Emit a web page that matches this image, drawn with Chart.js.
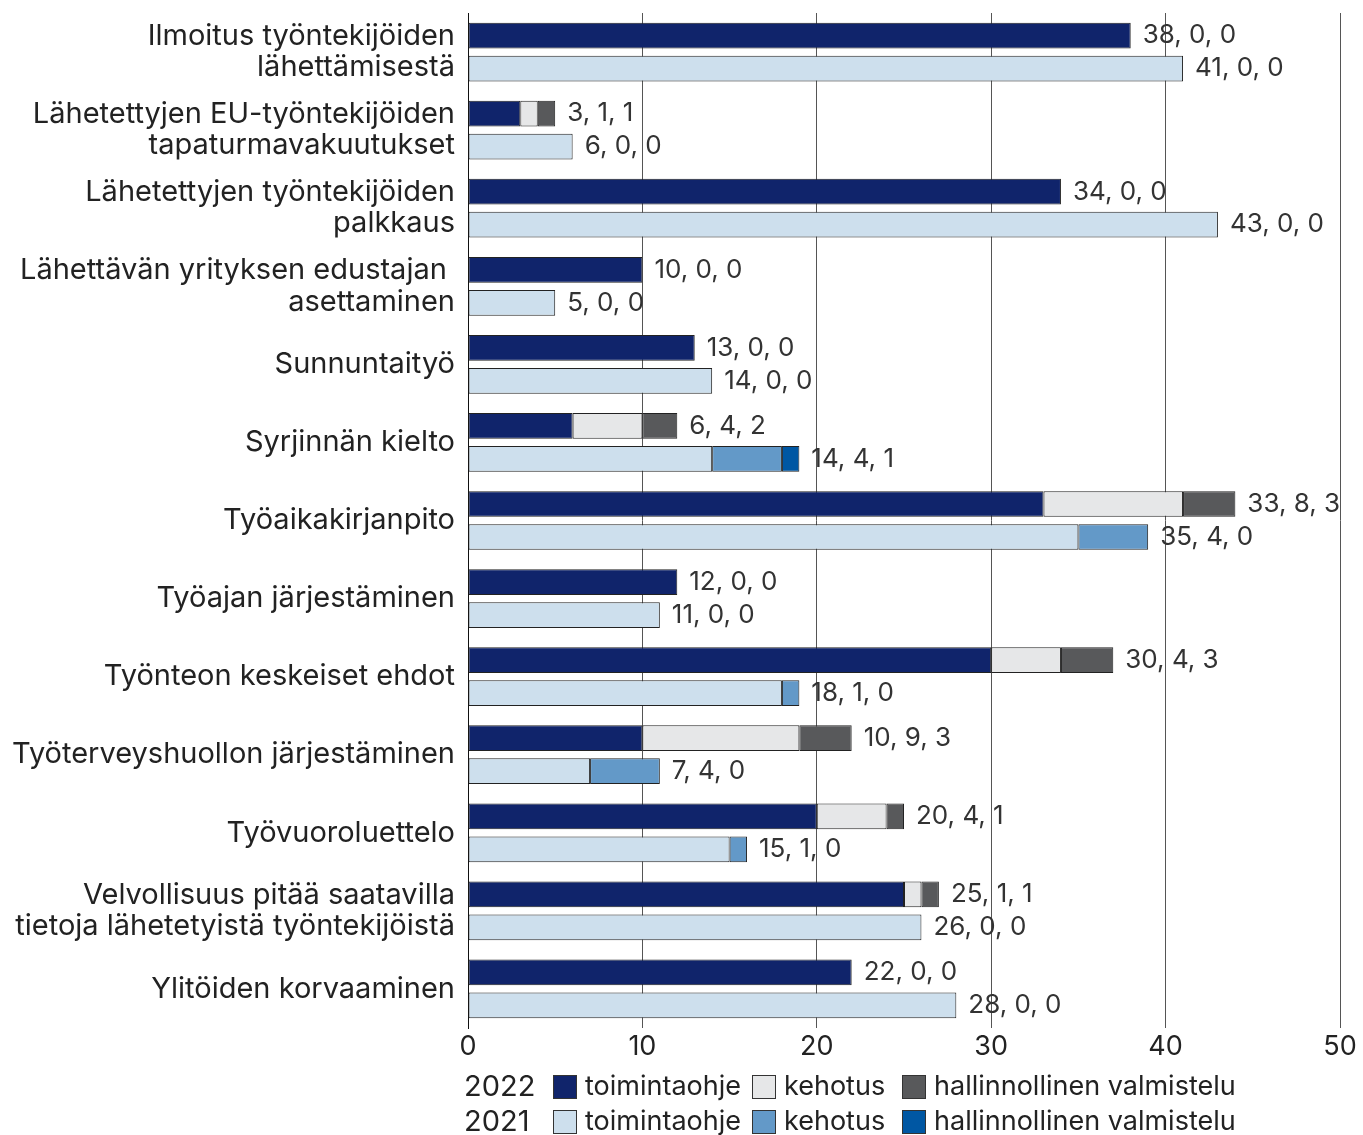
<!DOCTYPE html>
<html>
<head>
<meta charset="utf-8">
<script src="https://cdn.jsdelivr.net/npm/chart.js@4"></script>
<style>
  html, body { margin: 0; padding: 0; background: #fff; }
  #wrap { width: 1363px; height: 1135px; }
</style>
</head>
<body>
<div id="wrap"><canvas id="barChart"></canvas></div>
<script>
var categories = [
    ['Ilmoitus työntekijöiden', 'lähettämisestä'],
    ['Lähetettyjen EU-työntekijöiden', 'tapaturmavakuutukset'],
    ['Lähetettyjen työntekijöiden', 'palkkaus'],
    ['Lähettävän yrityksen edustajan ', 'asettaminen'],
    'Sunnuntaityö',
    'Syrjinnän kielto',
    'Työaikakirjanpito',
    'Työajan järjestäminen',
    'Työnteon keskeiset ehdot',
    'Työterveyshuollon järjestäminen',
    'Työvuoroluettelo',
    ['Velvollisuus pitää saatavilla', 'tietoja lähetetyistä työntekijöistä'],
    'Ylitöiden korvaaminen'
];
var ohje2022 = [38, 3, 34, 10, 13, 6, 33, 12, 30, 10, 20, 25, 22];
var kehotus2022 = [0, 1, 0, 0, 0, 4, 8, 0, 4, 9, 4, 1, 0];
var hallinto2022 = [0, 1, 0, 0, 0, 2, 3, 0, 3, 3, 1, 1, 0];
var ohje2021 = [41, 6, 43, 5, 14, 14, 35, 11, 18, 7, 15, 26, 28];
var kehotus2021 = [0, 0, 0, 0, 0, 4, 4, 0, 1, 4, 1, 0, 0];
var hallinto2021 = [0, 0, 0, 0, 0, 1, 0, 0, 0, 0, 0, 0, 0];
var xTicks = [0, 10, 20, 30, 40, 50];

var FONT = 'Inter';
var colors = {
    ohje2022: '#10246b', kehotus2022: '#e6e7e8', hallinto2022: '#58595b',
    ohje2021: '#cddfed', kehotus2021: '#6399c8', hallinto2021: '#0057a3'
};

function ds(label, data, color, stack) {
    return {
        label: label, data: data, stack: stack,
        backgroundColor: color, borderColor: '#222', borderWidth: 1,
        borderSkipped: false,
        categoryPercentage: 0.845, barPercentage: 0.78
    };
}

// values written at the end of each stack
var endLabels = {
    id: 'endLabels',
    afterDatasetsDraw: function(chart) {
        var c = chart.ctx;
        c.save();
        c.font = '26px ' + FONT;
        c.fillStyle = '#333';
        c.textBaseline = 'middle';
        c.textAlign = 'left';
        [[0, 1, 2], [3, 4, 5]].forEach(function(group) {
            var last = chart.getDatasetMeta(group[2]);
            var first = chart.getDatasetMeta(group[0]);
            for (var i = 0; i < categories.length; i++) {
                var vals = group.map(function(d) { return chart.data.datasets[d].data[i]; });
                var bar = last.data[i];
                var y = first.data[i].y;
                c.fillText(vals.join(', '), bar.x + 12, y);
            }
        });
        c.restore();
    }
};

// two-row legend with year labels
var yearLegend = {
    id: 'yearLegend',
    afterDraw: function(chart) {
        var c = chart.ctx;
        var rows = [
            { year: '2022', items: [[0, 'toimintaohje'], [1, 'kehotus'], [2, 'hallinnollinen valmistelu']], y: 1087 },
            { year: '2021', items: [[3, 'toimintaohje'], [4, 'kehotus'], [5, 'hallinnollinen valmistelu']], y: 1122 }
        ];
        var boxX = [553, 752, 902];
        c.save();
        c.textBaseline = 'middle';
        rows.forEach(function(r) {
            c.font = '29px ' + FONT;
            c.fillStyle = '#222';
            c.textAlign = 'left';
            c.fillText(r.year, 464, r.y);
            r.items.forEach(function(it, k) {
                var d = chart.data.datasets[it[0]];
                c.fillStyle = d.backgroundColor;
                c.fillRect(boxX[k], r.y - 12, 24, 24);
                c.strokeStyle = '#333';
                c.lineWidth = 1;
                c.strokeRect(boxX[k] + 0.5, r.y - 11.5, 23, 23);
                c.fillStyle = '#222';
                c.font = '27px ' + FONT;
                c.fillText(it[1], boxX[k] + 32, r.y);
            });
        });
        c.restore();
    }
};

var ctx = document.getElementById('barChart').getContext('2d');
var myChart = new Chart(ctx, {
    type: 'bar',
    data: {
        labels: categories,
        datasets: [
            ds('toimintaohje', ohje2022, colors.ohje2022, '2022'),
            ds('kehotus', kehotus2022, colors.kehotus2022, '2022'),
            ds('hallinnollinen valmistelu', hallinto2022, colors.hallinto2022, '2022'),
            ds('toimintaohje', ohje2021, colors.ohje2021, '2021'),
            ds('kehotus', kehotus2021, colors.kehotus2021, '2021'),
            ds('hallinnollinen valmistelu', hallinto2021, colors.hallinto2021, '2021')
        ]
    },
    options: {
        indexAxis: 'y',
        responsive: true,
        maintainAspectRatio: false,
        animation: false,
        layout: { padding: { top: 13, right: 23, bottom: 72, left: 0 } },
        plugins: {
            legend: { display: false },
            tooltip: { enabled: false }
        },
        scales: {
            x: {
                stacked: true,
                min: 0, max: 50,
                afterBuildTicks: function(scale) {
                    scale.ticks = xTicks.map(function(v) { return { value: v }; });
                },
                afterFit: function(scale) {
                    scale.height = 35;
                    scale.paddingLeft = 0;
                    scale.paddingRight = 0;
                },
                grid: { color: '#555', lineWidth: 1, drawTicks: false },
                border: { display: false },
                ticks: { font: { family: FONT, size: 27 }, color: '#222', padding: 3 }
            },
            y: {
                stacked: true,
                afterFit: function(scale) {
                    scale.width = 468;
                    scale.paddingTop = 0;
                    scale.paddingBottom = 0;
                },
                grid: { display: false },
                border: { display: true, color: '#111', width: 1 },
                ticks: { font: { family: FONT, size: 29, lineHeight: 1.07 }, color: '#222', padding: 5 }
            }
        }
    },
    plugins: [endLabels, yearLegend]
});
</script>
</body>
</html>
